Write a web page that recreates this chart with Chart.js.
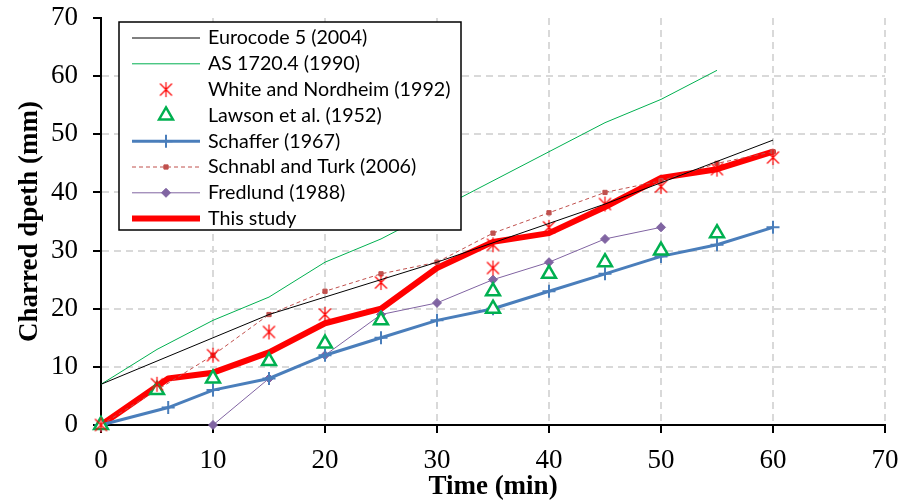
<!DOCTYPE html>
<html>
<head>
<meta charset="utf-8">
<script src="https://cdn.jsdelivr.net/npm/chart.js@4"></script>
<style>
  html, body { margin: 0; padding: 0; background: #fff; }
</style>
</head>
<body>
<canvas id="charChart" width="911" height="503"></canvas>
<script>
// time (min) / charred depth (mm) per source
const euroTime = [0, 15, 30, 45, 60];
const euroDepth = [7, 19, 28, 38, 49];

const asTime = [0, 5, 10, 15, 20, 25, 30, 35, 40, 45, 50, 55];
const asDepth = [7, 13, 18, 22, 28, 32, 37, 42, 47, 52, 56, 61];

const whiteTime = [0, 5, 10, 15, 20, 25, 35, 35, 40, 45, 50, 55, 60];
const whiteDepth = [0, 7, 12, 16, 19, 24.5, 27, 31, 34, 38, 41, 44, 46];

const lawsonTime = [0, 5, 10, 15, 20, 25, 35, 35, 40, 45, 50, 55];
const lawsonDepth = [0, 6, 8, 11, 14, 18, 20, 23, 26, 28, 30, 33];

const schafferTime = [0, 6, 10, 15, 20, 25, 30, 35, 40, 45, 50, 55, 60];
const schafferDepth = [0, 3, 6, 8, 12, 15, 18, 20, 23, 26, 29, 31, 34];

const schnablTime = [0, 5, 10, 15, 20, 25, 30, 35, 40, 45, 50, 55, 60];
const schnablDepth = [0, 6, 12, 19, 23, 26, 28, 33, 36.5, 40, 42, 45, 47];

const fredTime = [10, 15, 20, 25, 30, 35, 40, 45, 50];
const fredDepth = [0, 8, 12, 19, 21, 25, 28, 32, 34];

const studyTime = [0, 6, 10, 15, 20, 25, 30, 35, 40, 45, 50, 55, 60];
const studyDepth = [0, 8, 9, 12.5, 17.5, 20, 27, 31.5, 33, 37.5, 42.5, 44, 47];

const axisTicks = [0, 10, 20, 30, 40, 50, 60, 70];

const pts = (xs, ys) => xs.map((x, i) => ({ x: x, y: ys[i] }));

// excel style star marker (x with a vertical bar)
function starMarker() {
    const c = document.createElement('canvas');
    c.width = 15; c.height = 17;
    const g = c.getContext('2d');
    g.strokeStyle = '#ff0000';
    g.lineWidth = 1.2;
    g.beginPath();
    g.moveTo(1.5, 2.5); g.lineTo(13.5, 14.5);
    g.moveTo(13.5, 2.5); g.lineTo(1.5, 14.5);
    g.moveTo(7.5, 1); g.lineTo(7.5, 16);
    g.stroke();
    return c;
}

const serif = 'Liberation Serif';

const boxLegend = {
    id: 'boxLegend',
    afterDatasetsDraw(chart) {
        const ctx = chart.ctx;
        const area = chart.chartArea;
        const x0 = area.left + 18, y0 = area.top + 4, w = 342, h = 208;
        ctx.save();
        ctx.fillStyle = '#fff';
        ctx.fillRect(x0, y0, w, h);
        ctx.strokeStyle = '#000';
        ctx.lineWidth = 1.5;
        ctx.strokeRect(x0, y0, w, h);
        ctx.font = '19.7px Lato';
        ctx.textBaseline = 'middle';
        chart.data.datasets.forEach((ds, i) => {
            const y = y0 + 16 + i * 25.8;
            const lx1 = x0 + 13, lx2 = x0 + 81, mx = (lx1 + lx2) / 2;
            if (ds.showLine) {
                ctx.save();
                ctx.strokeStyle = ds.borderColor;
                ctx.lineWidth = ds.borderWidth;
                ctx.setLineDash(ds.borderDash || []);
                ctx.beginPath();
                ctx.moveTo(lx1, y);
                ctx.lineTo(lx2, y);
                ctx.stroke();
                ctx.restore();
            }
            if (ds.pointRadius > 0) {
                ctx.save();
                ctx.strokeStyle = ds.pointBorderColor;
                ctx.fillStyle = ds.pointBackgroundColor;
                ctx.lineWidth = ds.pointBorderWidth;
                Chart.helpers.drawPoint(ctx, {
                    pointStyle: ds.pointStyle, radius: ds.pointRadius,
                    borderWidth: ds.pointBorderWidth, rotation: 0
                }, mx, y);
                ctx.restore();
            }
            ctx.fillStyle = '#000';
            ctx.fillText(ds.label, x0 + 89, y);
        });
        ctx.restore();
    }
};

new Chart(document.getElementById('charChart'), {
    type: 'scatter',
    data: {
        datasets: [
            {
                label: 'Eurocode 5 (2004)', data: pts(euroTime, euroDepth),
                showLine: true, borderColor: '#000', borderWidth: 1, pointRadius: 0
            },
            {
                label: 'AS 1720.4 (1990)', data: pts(asTime, asDepth),
                showLine: true, borderColor: '#00b050', borderWidth: 1, pointRadius: 0
            },
            {
                label: 'White and Nordheim (1992)', data: pts(whiteTime, whiteDepth),
                showLine: false, pointStyle: starMarker(), pointRadius: 7,
                pointBorderColor: '#ff0000', pointBackgroundColor: '#ff0000', pointBorderWidth: 1
            },
            {
                label: 'Lawson et al. (1952)', data: pts(lawsonTime, lawsonDepth),
                showLine: false, pointStyle: 'triangle', pointRadius: 8,
                pointBorderColor: '#00b050', pointBackgroundColor: '#fff', pointBorderWidth: 2.5
            },
            {
                label: 'Schaffer (1967)', data: pts(schafferTime, schafferDepth),
                showLine: true, borderColor: '#4a7ebb', borderWidth: 3,
                pointStyle: 'cross', pointRadius: 6.5,
                pointBorderColor: '#4a7ebb', pointBackgroundColor: '#4a7ebb', pointBorderWidth: 2
            },
            {
                label: 'Schnabl and Turk (2006)', data: pts(schnablTime, schnablDepth),
                showLine: true, borderColor: '#c0504d', borderWidth: 1, borderDash: [4, 3],
                pointStyle: 'rect', pointRadius: 3,
                pointBorderColor: '#c0504d', pointBackgroundColor: '#c0504d', pointBorderWidth: 1
            },
            {
                label: 'Fredlund (1988)', data: pts(fredTime, fredDepth),
                showLine: true, borderColor: '#8064a2', borderWidth: 1,
                pointStyle: 'rectRot', pointRadius: 4.5,
                pointBorderColor: '#8064a2', pointBackgroundColor: '#8064a2', pointBorderWidth: 1
            },
            {
                label: 'This study', data: pts(studyTime, studyDepth),
                showLine: true, borderColor: '#ff0000', borderWidth: 6,
                borderJoinStyle: 'round', borderCapStyle: 'round', pointRadius: 0
            }
        ]
    },
    options: {
        responsive: false,
        animation: false,
        devicePixelRatio: 1,
        layout: { padding: { top: 18, right: 26, left: 0, bottom: 0 } },
        datasets: { scatter: { clip: false, tension: 0 } },
        plugins: {
            legend: { display: false },
            tooltip: { enabled: false }
        },
        scales: {
            x: {
                type: 'linear', min: 0, max: 70,
                afterBuildTicks: (s) => { s.ticks = axisTicks.map(v => ({ value: v })); },
                afterFit: (s) => { s.height = 78; s.paddingLeft = 0; s.paddingRight = 0; },
                ticks: { color: '#000', padding: 12, font: { family: serif, size: 27 } },
                grid: {
                    color: (c) => (c.tick && c.tick.value === 0) ? 'rgba(0,0,0,0)' : '#d9d9d9',
                    lineWidth: 2, tickColor: '#000', tickLength: 8, tickWidth: 2, tickBorderDash: []
                },
                border: { color: '#000', width: 2, dash: [7, 5] },
                title: {
                    display: true, text: 'Time (min)', color: '#000',
                    font: { family: serif, size: 27, weight: 'bold' },
                    padding: { top: 0, bottom: 0 }
                }
            },
            y: {
                type: 'linear', min: 0, max: 70,
                afterBuildTicks: (s) => { s.ticks = axisTicks.map(v => ({ value: v })); },
                afterFit: (s) => { s.width = 101; s.paddingTop = 0; s.paddingBottom = 0; },
                ticks: { color: '#000', padding: 15, font: { family: serif, size: 27 } },
                grid: {
                    color: (c) => (c.tick && (c.tick.value === 0 || c.tick.value === 70)) ? 'rgba(0,0,0,0)' : '#d9d9d9',
                    lineWidth: 2, tickColor: '#000', tickLength: 8, tickWidth: 2, tickBorderDash: []
                },
                border: { color: '#000', width: 2, dash: [7, 5] },
                title: {
                    display: true, text: 'Charred dpeth (mm)', color: '#000',
                    font: { family: serif, size: 27, weight: 'bold' },
                    padding: { top: 14, bottom: 0 }
                }
            }
        }
    },
    plugins: [boxLegend]
});
</script>
</body>
</html>
